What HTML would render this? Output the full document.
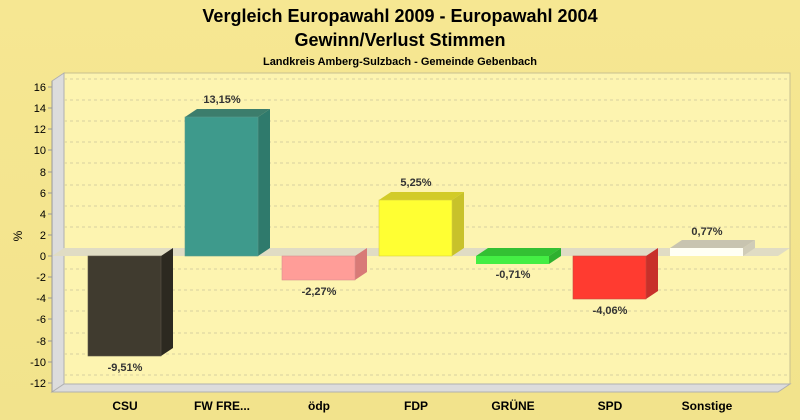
<!DOCTYPE html>
<html><head><meta charset="utf-8"><style>
body{margin:0;background:#f4e58e;}
svg{display:block;font-family:"Liberation Sans",sans-serif;}
</style></head><body>
<svg width="800" height="420" xmlns="http://www.w3.org/2000/svg">
<defs><linearGradient id="bg" x1="0" y1="0" x2="0" y2="1"><stop offset="0" stop-color="#f6e792"/><stop offset="1" stop-color="#f2e38c"/></linearGradient></defs>
<rect width="800" height="420" fill="url(#bg)"/>
<text x="400" y="22" text-anchor="middle" font-size="18" font-weight="bold">Vergleich Europawahl 2009 - Europawahl 2004</text>
<text x="400" y="46" text-anchor="middle" font-size="18" font-weight="bold">Gewinn/Verlust Stimmen</text>
<text x="400" y="65" text-anchor="middle" font-size="11" font-weight="bold">Landkreis Amberg-Sulzbach - Gemeinde Gebenbach</text>
<!-- back wall -->
<rect x="64" y="73" width="726" height="311" fill="#fdf4b0" stroke="#c8c090"/>
<!-- left side wall -->
<polygon points="52,81 64,73 64,384 52,392" fill="#dcdcdc" stroke="#b0b0b0"/>
<!-- floor -->
<polygon points="52,392 64,384 790,384 778,392" fill="#dcdcdc" stroke="#b0b0b0"/>
<g stroke="#d8d0a0" stroke-dasharray="3,3">
<line x1="64" x2="790" y1="79" y2="79"/><line x1="64" x2="790" y1="100" y2="100"/><line x1="64" x2="790" y1="121" y2="121"/><line x1="64" x2="790" y1="142" y2="142"/><line x1="64" x2="790" y1="163" y2="163"/><line x1="64" x2="790" y1="185" y2="185"/><line x1="64" x2="790" y1="206" y2="206"/><line x1="64" x2="790" y1="227" y2="227"/><line x1="64" x2="790" y1="269" y2="269"/><line x1="64" x2="790" y1="290" y2="290"/><line x1="64" x2="790" y1="311" y2="311"/><line x1="64" x2="790" y1="333" y2="333"/><line x1="64" x2="790" y1="354" y2="354"/><line x1="64" x2="790" y1="375" y2="375"/>
</g>
<!-- zero plane -->
<polygon points="52,256 64,248 790,248 778,256" fill="#e0dcc4"/>
<line x1="52" y1="81" x2="52" y2="392" stroke="#999"/>
<g font-size="11" text-anchor="end" fill="#000">
<text x="46" y="91">16</text><text x="46" y="112">14</text><text x="46" y="133">12</text><text x="46" y="154">10</text><text x="46" y="176">8</text><text x="46" y="197">6</text><text x="46" y="218">4</text><text x="46" y="239">2</text><text x="46" y="260">0</text><text x="46" y="281">-2</text><text x="46" y="302">-4</text><text x="46" y="323">-6</text><text x="46" y="345">-8</text><text x="46" y="366">-10</text><text x="46" y="387">-12</text>
</g>
<g stroke="#999"><line x1="48" x2="52" y1="87" y2="87"/><line x1="48" x2="52" y1="108" y2="108"/><line x1="48" x2="52" y1="129" y2="129"/><line x1="48" x2="52" y1="150" y2="150"/><line x1="48" x2="52" y1="172" y2="172"/><line x1="48" x2="52" y1="193" y2="193"/><line x1="48" x2="52" y1="214" y2="214"/><line x1="48" x2="52" y1="235" y2="235"/><line x1="48" x2="52" y1="256" y2="256"/><line x1="48" x2="52" y1="277" y2="277"/><line x1="48" x2="52" y1="298" y2="298"/><line x1="48" x2="52" y1="319" y2="319"/><line x1="48" x2="52" y1="341" y2="341"/><line x1="48" x2="52" y1="362" y2="362"/><line x1="48" x2="52" y1="383" y2="383"/></g>
<text x="22" y="236" font-size="12" transform="rotate(-90 22 236)" text-anchor="middle">%</text>
<!-- bars: front x, width 73, depth 12x,8y -->
<!-- CSU -9.51 -> 256..356.5 -->
<polygon points="161,256 173,248 173,348 161,356" fill="#2c2920"/>
<rect x="88" y="256" width="73" height="100" fill="#403b2f" stroke="#5a5548" stroke-width="0.6"/>
<!-- FW 13.15 -> 117 -->
<polygon points="185,117 197,109 270,109 258,117" fill="#3c7d6c"/>
<polygon points="258,117 270,109 270,248 258,256" fill="#2f7a6c"/>
<rect x="185" y="117" width="73" height="139" fill="#3e9a8c" stroke="#5a9a8c" stroke-width="0.6"/>
<!-- ödp -2.27 -> 280 -->
<polygon points="355,256 367,248 367,272 355,280" fill="#d87a77"/>
<rect x="282" y="256" width="73" height="24" fill="#ff9d98" stroke="#d89090" stroke-width="0.6"/>
<!-- FDP 5.25 -> 200.5 -->
<polygon points="379,200 391,192 464,192 452,200" fill="#d2cb28"/>
<polygon points="452,200 464,192 464,248 452,256" fill="#c8c22a"/>
<rect x="379" y="200" width="73" height="56" fill="#ffff33" stroke="#d8d040" stroke-width="0.6"/>
<!-- GRÜNE -0.71 -> 263.5 -->
<polygon points="476,256 488,248 561,248 549,256" fill="#33c033"/>
<polygon points="549,256 561,248 561,256 549,264" fill="#2fb02f"/>
<rect x="476" y="256" width="73" height="8" fill="#44ee44"/>
<!-- SPD -4.06 -> 299 -->
<polygon points="646,256 658,248 658,291 646,299" fill="#c8302a"/>
<rect x="573" y="256" width="73" height="43" fill="#ff3b30" stroke="#c84a40" stroke-width="0.6"/>
<!-- Sonstige 0.77 -> 248 -->
<polygon points="670,248 682,240 755,240 743,248" fill="#c8c4b0"/>
<polygon points="743,248 755,240 755,248 743,256" fill="#d0ccb8"/>
<rect x="670" y="248" width="73" height="8" fill="#fffff4"/>
<g font-size="11" font-weight="bold" fill="#333" text-anchor="middle">
<text x="125" y="371">-9,51%</text>
<text x="222" y="103">13,15%</text>
<text x="319" y="295">-2,27%</text>
<text x="416" y="186">5,25%</text>
<text x="513" y="278">-0,71%</text>
<text x="610" y="314">-4,06%</text>
<text x="707" y="235">0,77%</text>
</g>
<g font-size="12" font-weight="bold" fill="#000" text-anchor="middle">
<text x="125" y="410">CSU</text><text x="222" y="410">FW FRE...</text><text x="319" y="410">ödp</text><text x="416" y="410">FDP</text><text x="513" y="410">GRÜNE</text><text x="610" y="410">SPD</text><text x="707" y="410">Sonstige</text>
</g>
</svg>
</body></html>
